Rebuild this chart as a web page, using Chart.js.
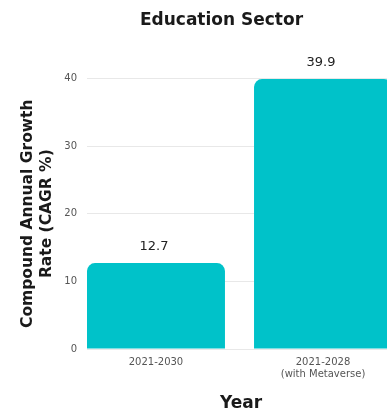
<!DOCTYPE html>
<html>
<head>
<meta charset="utf-8">
<script src="https://cdn.jsdelivr.net/npm/chart.js@4/dist/chart.umd.min.js"></script>
<style>
  html, body { margin: 0; padding: 0; background: #fff; overflow: hidden; }
  #wrap { width: 443px; height: 414px; }
</style>
</head>
<body>
<div id="wrap"><canvas id="cagrChart"></canvas></div>
<script>
// data
const categories = [['2021-2030'], ['2021-2028', '(with Metaverse)']];
const cagrValues = [12.7, 39.9];
const yTicks = [0, 10, 20, 30, 40];

const barColor = '#00c2c9';

// writes the value above each bar
const valueLabels = {
    id: 'valueLabels',
    afterDatasetsDraw(chart) {
        const ctx = chart.ctx;
        const meta = chart.getDatasetMeta(0);
        ctx.save();
        ctx.font = '13px "DejaVu Sans"';
        ctx.fillStyle = '#222';
        ctx.textAlign = 'center';
        ctx.textBaseline = 'middle';
        meta.data.forEach((bar, i) => {
            ctx.fillText(cagrValues[i].toFixed(1), bar.x - 2, bar.y - 16);
        });
        ctx.restore();
    }
};

Chart.defaults.font.family = '"DejaVu Sans", sans-serif';

const ctx = document.getElementById('cagrChart').getContext('2d');
const cagrChart = new Chart(ctx, {
    type: 'bar',
    data: {
        datasets: [{
            data: cagrValues.map((v, i) => ({ x: i, y: v })),
            backgroundColor: barColor,
            borderRadius: 8,
            borderSkipped: 'start',
            barPercentage: 0.826,
            categoryPercentage: 1,
            yAxisID: 'y'
        }]
    },
    options: {
        responsive: true,
        maintainAspectRatio: false,
        animation: false,
        layout: { padding: 0 },
        plugins: {
            legend: { display: false },
            tooltip: { enabled: false },
            title: {
                display: true,
                text: 'Education Sector',
                color: '#1a1a1a',
                font: { size: 17, weight: 'bold' },
                padding: { top: 10, bottom: 48 }
            }
        },
        scales: {
            x: {
                type: 'linear',
                offset: false,
                min: -0.413,
                max: 1.431,
                grid: { display: false, drawTicks: false },
                border: { display: false },
                afterBuildTicks: (scale) => {
                    scale.ticks = categories.map((c, i) => ({ value: i }));
                },
                afterFit: (scale) => { scale.height = 65; },
                ticks: {
                    autoSkip: false,
                    maxRotation: 0,
                    padding: 7,
                    color: '#555',
                    font: { size: 10 },
                    callback: (value) => categories[value]
                },
                title: {
                    display: true,
                    text: 'Year',
                    color: '#1a1a1a',
                    font: { size: 17, weight: 'bold' },
                    padding: { top: 0, bottom: 0 }
                }
            },
            y: {
                min: 0,
                max: 40,
                afterBuildTicks: (scale) => {
                    scale.ticks = yTicks.map(v => ({ value: v }));
                },
                afterFit: (scale) => { scale.width = 87; },
                grid: { color: '#e8e8e8', drawTicks: false },
                border: { display: false },
                ticks: {
                    padding: 10,
                    color: '#555',
                    font: { size: 10 }
                },
                title: {
                    display: true,
                    text: ['Compound Annual Growth', 'Rate (CAGR %)'],
                    color: '#1a1a1a',
                    font: { size: 15.5, weight: 'bold', lineHeight: 1.25 },
                    padding: { top: 18, bottom: 0 }
                }
            },
            // empty right axis, only keeps room on the right so the plot matches
            yRight: {
                position: 'right',
                display: true,
                grid: { display: false, drawTicks: false },
                border: { display: false },
                ticks: { display: false },
                afterFit: (scale) => { scale.width = 48; }
            }
        }
    },
    plugins: [valueLabels]
});
</script>
</body>
</html>
